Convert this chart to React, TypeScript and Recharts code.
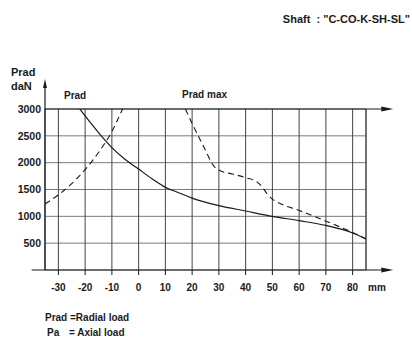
import {
  LineChart,
  Line,
  XAxis,
  YAxis,
  CartesianGrid,
  ReferenceLine,
  ReferenceDot,
} from "recharts";

// tick values
const xTicks = [-30, -20, -10, 0, 10, 20, 30, 40, 50, 60, 70, 80];
const yTicks = [500, 1000, 1500, 2000, 2500, 3000];

// Prad (solid)
const pradX = [-22, -20, -15, -10, -5, 0, 5, 10, 15, 20, 30, 40, 50, 60, 70, 80, 85];
const pradY = [3000, 2870, 2560, 2280, 2060, 1880, 1700, 1540, 1440, 1340, 1200, 1100, 1000, 920, 830, 690, 580];

// left dashed curve
const paX = [-35, -30, -25, -20, -15, -10, -6];
const paY = [1230, 1400, 1610, 1870, 2190, 2580, 3000];

// Prad max (dashed)
const maxX = [17.5, 20, 25, 27.5, 29, 31, 35, 40, 44, 46, 48, 50, 52, 60, 70, 80, 85];
const maxY = [3000, 2730, 2230, 1980, 1890, 1840, 1790, 1720, 1650, 1560, 1420, 1320, 1260, 1110, 910, 700, 580];

const toPoints = (xs: number[], ys: number[]) => xs.map((x, i) => ({ x, y: ys[i] }));

const pradData = toPoints(pradX, pradY);
const paData = toPoints(paX, paY);
const maxData = toPoints(maxX, maxY);

const FONT = "'Liberation Sans', Arial, sans-serif";
const INK = "#1a1a1a";

const ArrowRight = (props: any) => {
  const { cx, cy } = props;
  return <path d={`M${cx},${cy} L${cx - 12},${cy - 2.5} L${cx - 12},${cy + 2.5} Z`} fill={INK} />;
};

const ArrowUp = (props: any) => {
  const { cx, cy } = props;
  return <path d={`M${cx},${cy} L${cx - 2},${cy + 9} L${cx + 2},${cy + 9} Z`} fill={INK} />;
};

const App = () => {
  return (
    <div style={{ position: "absolute", left: 0, top: 0, width: 412, height: 338, background: "#fff", overflow: "hidden" }}>
      <LineChart
        width={412}
        height={338}
        margin={{ top: 109, right: 46, bottom: 38, left: 5 }}
      >
        <CartesianGrid vertical={false} stroke="#7a7a7a" strokeWidth={1} />
        <CartesianGrid horizontal={false} stroke="#444" strokeWidth={1} />
        <XAxis
          dataKey="x"
          type="number"
          domain={[-35, 85]}
          ticks={xTicks}
          height={30}
          axisLine={false}
          tickSize={5}
          tickMargin={9}
          tickLine={{ stroke: INK }}
          tick={{ fill: INK, fontSize: 10, fontWeight: "bold", fontFamily: FONT }}
          allowDataOverflow
        />
        <YAxis
          dataKey="y"
          type="number"
          domain={[0, 3000]}
          ticks={yTicks}
          width={40}
          axisLine={false}
          tickLine={false}
          tickSize={0}
          tickMargin={4}
          tick={{ fill: INK, fontSize: 10.5, fontWeight: "bold", fontFamily: FONT }}
          allowDataOverflow
        />
        <ReferenceLine x={85} stroke="#444" strokeWidth={1} />
        <ReferenceLine
          segment={[{ x: -40, y: 0 }, { x: 93, y: 0 }]}
          stroke={INK}
          strokeWidth={1.2}
          ifOverflow="visible"
        />
        <ReferenceLine
          segment={[{ x: -35, y: 3000 }, { x: 93, y: 3000 }]}
          stroke={INK}
          strokeWidth={1.2}
          ifOverflow="visible"
        />
        <ReferenceLine
          segment={[{ x: -35, y: 0 }, { x: -35, y: 3450 }]}
          stroke={INK}
          strokeWidth={1.2}
          ifOverflow="visible"
        />
        <ReferenceDot x={95.2} y={0} r={0} shape={ArrowRight} ifOverflow="visible" />
        <ReferenceDot x={95.2} y={3000} r={0} shape={ArrowRight} ifOverflow="visible" />
        <ReferenceDot x={-35} y={3560} r={0} shape={ArrowUp} ifOverflow="visible" />
        <Line
          data={paData}
          dataKey="y"
          type="monotone"
          stroke={INK}
          strokeWidth={1.1}
          strokeDasharray="6 4"
          dot={false}
          isAnimationActive={false}
        />
        <Line
          data={maxData}
          dataKey="y"
          type="monotone"
          stroke={INK}
          strokeWidth={1.1}
          strokeDasharray="6 4"
          dot={false}
          isAnimationActive={false}
        />
        <Line
          data={pradData}
          dataKey="y"
          type="monotone"
          stroke={INK}
          strokeWidth={1.2}
          dot={false}
          isAnimationActive={false}
        />
      </LineChart>
      <svg
        width={412}
        height={338}
        style={{ position: "absolute", left: 0, top: 0, pointerEvents: "none" }}
        fontFamily={FONT}
        fontWeight="bold"
        fill={INK}
      >
        <text x={410} y={23} fontSize={11} textAnchor="end" style={{ whiteSpace: "pre" }}>
          {'Shaft  : "C-CO-K-SH-SL"'}
        </text>
        <text x={11} y={76} fontSize={11}>Prad</text>
        <text x={11} y={90} fontSize={11}>daN</text>
        <text x={64} y={99} fontSize={10}>Prad</text>
        <text x={182} y={98} fontSize={10}>Prad max</text>
        <text x={368} y={291} fontSize={10}>mm</text>
        <text x={45} y={321} fontSize={10}>Prad =Radial load</text>
        <text x={47} y={336} fontSize={10}>Pa</text>
        <text x={69} y={336} fontSize={10}>= Axial load</text>
      </svg>
    </div>
  );
};

export default App;
